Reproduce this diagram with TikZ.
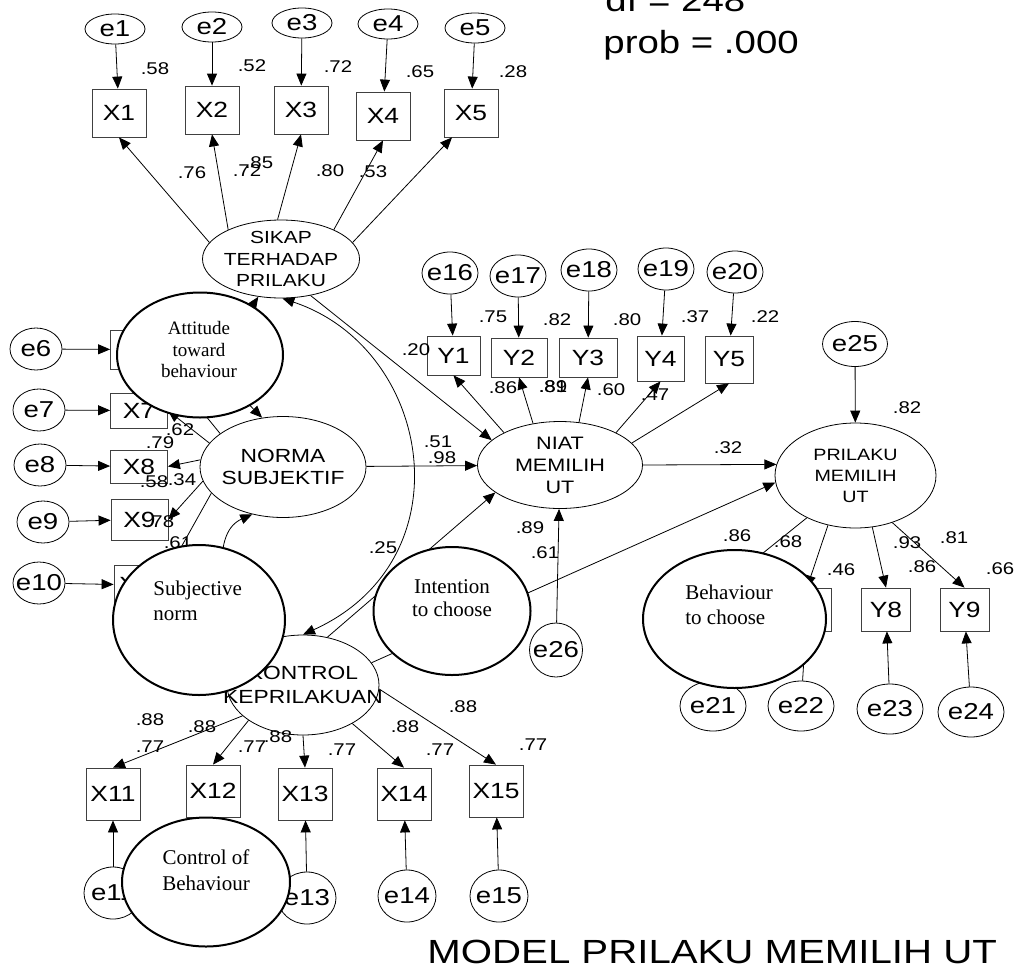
\documentclass[tikz,border=0pt]{standalone}
\usepackage{fontspec}
\setmainfont{Liberation Sans}[FakeStretch=1.2]
\newfontfamily\timesfont{Liberation Serif}
\usetikzlibrary{arrows.meta,shapes.geometric}
\newcommand\zw[1]{\makebox[0pt]{#1}}
\tikzset{
every picture/.style={
line width=0.8pt
},
obs/.style={draw=black!75, rectangle, minimum width=54, minimum height=48, inner sep=0pt, font=\fontsize{22}{22}\selectfont},
err/.style={draw, ellipse, minimum width=58, minimum height=44, inner sep=0pt, font=\fontsize{23}{23}\selectfont},
lat/.style={draw, ellipse, fill=white, inner sep=0pt},
lattxt/.style={align=center, inner sep=0pt},
eng/.style={draw, ellipse, fill=white, line width=2pt, inner sep=0pt},
engtxt/.style={inner sep=0pt, font=\timesfont\fontsize{21}{25}\selectfont},
coef/.style={inner sep=0pt, font=\fontsize{17}{17}\selectfont},
reg/.style={-{Triangle[length=12pt,width=10pt]}},
cov/.style={{Triangle[length=12pt,width=10pt]}-{Triangle[length=12pt,width=10pt]}}
}

\begin{document}
\begin{tikzpicture}[x=1pt,y=-1pt]
\useasboundingbox (0,0) rectangle (1019,969);

\node[anchor=base west, inner sep=0pt, font=\fontsize{32}{32}\selectfont] (df) at (605,12) {df = 248};
\node[anchor=base west, inner sep=0pt, font=\fontsize{32}{32}\selectfont] (prob) at (603,53) {prob = .000};

% sikap terhadap prilaku
\foreach \x/\y [count=\i] in {115/29, 212/27, 302/23, 388/24, 475/28}{
  \node[err, minimum width=60, minimum height=30] (e\i) at (\x,\y) {\zw{e\i}};
}
\foreach \x/\y [count=\i] in {119/113, 212/110, 301/110, 383/116, 471/113}{
  \node[obs] (x\i) at (\x,\y) {X\i};
  \draw[reg] (e\i) -- (x\i);
}
\node[lat, minimum width=157, minimum height=78, label={[lattxt, font=\fontsize{17.5}{21.7}\selectfont]center:SIKAP\\TERHADAP\\PRILAKU}] (sikap) at (281,259) {};
\foreach \a/\i in {167/1, 151/2, 95/3, 29/4}{
  \draw[reg] (sikap.\a) -- (x\i.south);
}
\draw[reg] (sikap.13) -- ([xshift=-19pt]x5.south);

% norma subjektif
\foreach \x/\y [count=\i from 6] in {36/349, 39/410, 40/465, 43/522, 39/583}{
  \node[err, minimum width=52, minimum height=42] (e\i) at (\x,\y) {\zw{e\i}};
}
\foreach \x/\y/\h/\t [count=\i from 6] in {139/349.5/39/{}, 139/410.5/35/X7, 139/466.5/33/X8, 139.5/519.5/41/X9, 142.5/585/40/X10}{
  \node[obs, minimum width=57, minimum height=\h] (x\i) at (\x,\y) {\t};
  \draw[reg] (e\i) -- (x\i);
}
\node[lat, minimum width=166, minimum height=101, label={[lattxt, font=\fontsize{19}{22.5}\selectfont]center:NORMA\\SUBJEKTIF}] (norma) at (283,467) {};
\draw[reg] (norma.152) -- (x6.south east);
\draw[reg] (norma.162) -- (x7.east);
\draw[reg] (norma.175) -- (x8.east);
\draw[reg] (norma.190) -- (x9.east);
\draw[reg] (norma.200) -- (x10.north east);

% kontrol keprilakuan
\node[lat, minimum width=152, minimum height=100, label={[lattxt, font=\fontsize{19}{24}\selectfont]center:KONTROL\\KEPRILAKUAN}] (kontrol) at (303,685) {};
\foreach \x/\y [count=\i from 11] in {113/794, 213/791, 305/794, 404/794, 496/791}{
  \node[obs, minimum height=52] (x\i) at (\x,\y) {X\i};
}
\foreach \x/\y/\t [count=\i from 11] in {113/893/e11, 213/893/{}, 307/898/e13, 407/896/e14, 499/896/e15}{
  \node[err, minimum width=58, minimum height=52] (e\i) at (\x,\y) {\zw{\t}};
  \draw[reg] (e\i) -- (x\i);
}
\foreach \a/\i in {207/11, 213/12, 270/13, 322/14, 357/15}{
  \draw[reg] (kontrol.\a) -- (x\i.north);
}

% niat memilih ut
\node[lat, minimum width=165, minimum height=87, label={[lattxt, font=\fontsize{18}{22}\selectfont]center:NIAT\\MEMILIH\\UT}] (niat) at (560,465) {};
\foreach \x/\y [count=\i from 16] in {450/273, 518/276, 589/270, 666/269, 735/272}{
  \node[err, minimum width=56, minimum height=42] (e\i) at (\x,\y) {\zw{e\i}};
}
\foreach \x/\y/\w/\h [count=\i] in {453.5/355.5/53/39, 519/357.5/56/39, 588/357.5/58/39, 660.5/358.5/47/45, 729/359.5/48/47}{
  \pgfmathtruncatemacro\k{\i+15}
  \node[obs, minimum width=\w, minimum height=\h] (y\i) at (\x,\y) {Y\i};
  \draw[reg] (e\k) -- (y\i);
}
\foreach \a/\i in {150/1, 123/2, 66/3, 30/4, 17/5}{
  \draw[reg] (niat.\a) -- (y\i.south);
}

% prilaku memilih ut
\node[lat, minimum width=161, minimum height=105, label={[lattxt, font=\fontsize{16.4}{21}\selectfont]center:PRILAKU\\MEMILIH\\UT}] (prilaku) at (855.5,475.5) {};
\node[err, minimum width=65, minimum height=45] (e25) at (855,344) {\zw{e25}};
\node[err, minimum width=53, minimum height=54] (e26) at (556,650) {\zw{e26}};
\foreach \x/\t [count=\i from 6] in {720/{}, 807/{}, 886/Y8, 964.5/Y9}{
  \node[obs, minimum width=49, minimum height=43] (y\i) at (\x,609.5) {\t};
}
\foreach \x/\y [count=\i from 21] in {713/706, 801/706, 890/709, 971/712}{
  \pgfmathtruncatemacro\k{\i-15}
  \node[err, minimum width=66, minimum height=50] (e\i) at (\x,\y) {\zw{e\i}};
  \draw[reg] (e\i) -- (y\k);
}
\foreach \a/\i in {221/6, 241/7, 288/8, 308/9}{
  \draw[reg] (prilaku.\a) -- (y\i.north);
}

% structural paths
\draw[reg] (sikap.309) -- (niat.160);
\draw[reg] (norma) -- (niat);
\draw[reg] (kontrol.63) -- (niat.203);
\draw[reg] (kontrol.18) -- (prilaku.185);
\draw[reg] (niat.east) -- (prilaku.172);
\draw[reg] (e26) -- (niat);
\draw[reg] (e25) -- (prilaku);

% covariances
\draw[cov] (sikap.272) .. controls +(150,50) and +(165,-75) .. (kontrol.north);
\draw[cov] (sikap.239) .. controls +(-40,60) and +(-30,-30) .. (norma.113);
\draw[cov] (norma.237) .. controls +(-45,20) and +(-20,-40) .. (kontrol.150);

% estimates
\foreach \t/\x/\y [count=\i] in {.58/155/69, .52/252/66, .72/338/67, .65/420/72, .28/513/72,
  .76/192/173, .72/247/171, .85/259/163, .80/330/171, .53/373/172,
  .62/180/430, .79/160/443, .58/154/482, .34/182/480, .78/160/522, .61/178/543, .25/383/548,
  .20/416/350, .75/493/317, .82/557/320, .80/627/320, .37/695/317, .22/765/317,
  .86/503/388, .89/553/387, .81/553/387, .60/611/390, .47/655/395,
  .51/438/442, .98/442/458, .32/728/448, .89/530/528, .61/545/553, .82/907/408,
  .86/737/536, .68/788/542, .46/841/570, .93/907/543, .81/954/538, .86/922/567, .66/1000/569,
  .88/150/720, .88/202/727, .77/150/747, .77/252/747, .88/278/737, .77/342/750,
  .88/405/727, .77/440/750, .88/463/707, .77/533/745}{
  \node[coef] (c\i) at (\x,\y) {\t};
}

% english labels
\node[eng, minimum width=166, minimum height=125] (attitude) at (200,355) {};
\node[engtxt, align=center, font=\timesfont\fontsize{19}{21.5}\selectfont] (attitudetxt) at (199,349.5) {Attitude\\toward\\behaviour};
\node[eng, minimum width=172, minimum height=150] (subjective) at (199,620) {};
\node[engtxt, align=left, anchor=west] (subjectivetxt) at (153,600.5) {Subjective\\norm};
\node[eng, minimum width=157, minimum height=128] (intention) at (452,611) {};
\node[engtxt, align=center, font=\timesfont\fontsize{21}{23}\selectfont] (intentiontxt) at (452,598.5) {Intention\\to choose};
\node[eng, minimum width=168, minimum height=129] (control) at (206,882) {};
\node[engtxt, align=center, font=\timesfont\fontsize{21}{26}\selectfont] (controltxt) at (206,870) {Control of\\Behaviour};
\node[eng, minimum width=183, minimum height=138] (behaviour) at (734.5,619) {};
\node[engtxt, align=left, anchor=west] (behaviourtxt) at (685,604.5) {Behaviour\\to choose};

\node[anchor=base west, inner sep=0pt, font=\fontsize{33.5}{33.5}\selectfont] (title) at (427,963) {MODEL PRILAKU MEMILIH UT};
\end{tikzpicture}
\end{document}
